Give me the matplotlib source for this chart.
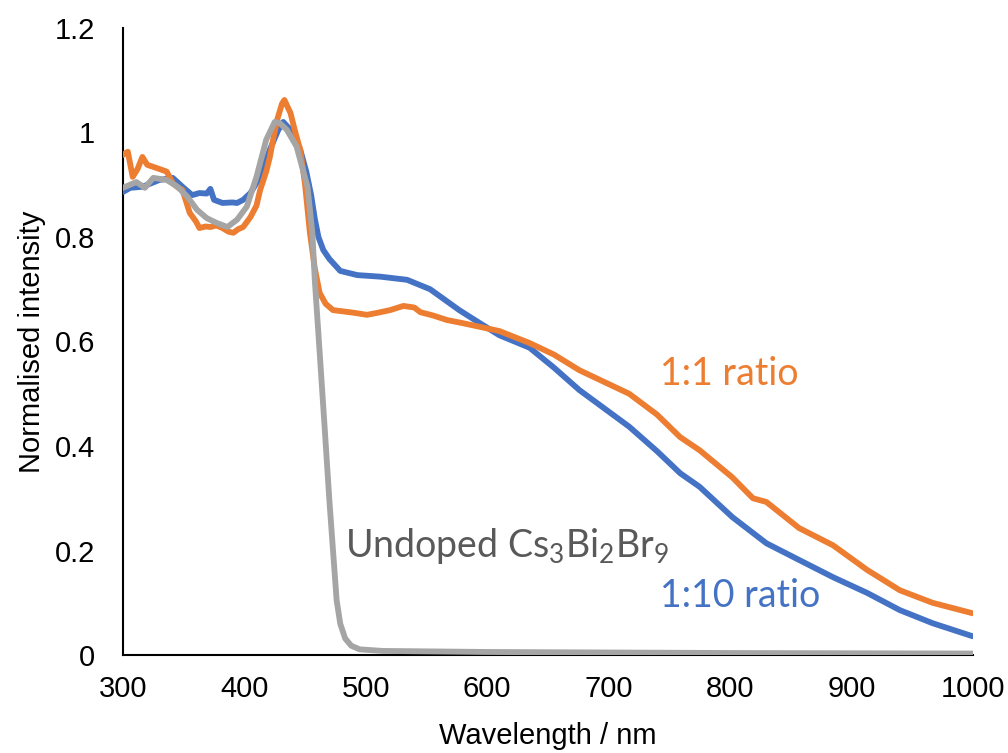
import matplotlib.pyplot as plt

# 1:10 ratio (blue)
wl_110 = [300, 306, 316, 330, 341, 349, 357, 363, 369, 372, 375, 382, 390, 394, 399,
          405, 413, 421, 428, 432, 438, 446, 451, 455, 458, 461, 465, 470, 479, 493,
          512, 534, 553, 577, 594, 610, 635, 655, 676, 717, 740, 759, 775, 802, 830,
          857, 885, 913, 940, 967, 1000]
int_110 = [0.886, 0.894, 0.896, 0.909, 0.913, 0.896, 0.880, 0.884, 0.883, 0.892, 0.871,
           0.865, 0.866, 0.865, 0.871, 0.884, 0.915, 0.967, 1.005, 1.020, 1.005, 0.967,
           0.925, 0.880, 0.835, 0.800, 0.775, 0.758, 0.735, 0.727, 0.724, 0.718, 0.700,
           0.660, 0.635, 0.612, 0.588, 0.550, 0.507, 0.437, 0.390, 0.348, 0.322, 0.264,
           0.214, 0.182, 0.149, 0.119, 0.086, 0.061, 0.036]

# 1:1 ratio (orange)
wl_11 = [300, 304, 308, 312, 316, 320, 325, 330, 336, 341, 345, 349, 355, 360, 363,
         368, 372, 377, 382, 387, 391, 395, 399, 405, 410, 413, 418, 421, 424, 427,
         431, 433, 438, 442, 446, 450, 454, 458, 462, 467, 473, 480, 490, 501, 510,
         520, 531, 540, 545, 555, 567, 580, 594, 610, 635, 655, 676, 717, 740, 759,
         775, 802, 819, 830, 857, 885, 913, 940, 967, 1000]
int_11 = [0.957, 0.963, 0.915, 0.930, 0.953, 0.938, 0.934, 0.930, 0.925, 0.903, 0.895,
          0.890, 0.846, 0.830, 0.817, 0.820, 0.819, 0.822, 0.817, 0.810, 0.808, 0.815,
          0.819, 0.838, 0.860, 0.890, 0.925, 0.953, 0.990, 1.024, 1.055, 1.062, 1.037,
          1.000, 0.967, 0.900, 0.808, 0.740, 0.693, 0.672, 0.660, 0.658, 0.655, 0.651,
          0.655, 0.660, 0.668, 0.665, 0.656, 0.650, 0.641, 0.635, 0.628, 0.620, 0.597,
          0.575, 0.545, 0.500, 0.460, 0.417, 0.392, 0.340, 0.300, 0.293, 0.243, 0.210,
          0.163, 0.124, 0.100, 0.080]

# undoped Cs3Bi2Br9 (grey)
wl_un = [300, 311, 318, 325, 336, 345, 353, 361, 369, 377, 386, 394, 402, 410, 418,
         425, 429, 435, 443, 452, 456, 458, 462, 466, 470, 473, 476, 479, 483, 488,
         495, 514, 600, 800, 1000]
int_un = [0.894, 0.905, 0.894, 0.913, 0.909, 0.896, 0.877, 0.852, 0.836, 0.827, 0.819,
          0.833, 0.858, 0.915, 0.986, 1.020, 1.018, 1.005, 0.973, 0.896, 0.808, 0.718,
          0.580, 0.440, 0.297, 0.201, 0.105, 0.060, 0.032, 0.018, 0.011, 0.008, 0.006,
          0.004, 0.003]

plt.rcParams['font.family'] = ['Liberation Sans', 'DejaVu Sans']

fig = plt.figure(figsize=(10.08, 7.53), dpi=100)
ax = fig.add_axes([0.122, 0.130, 0.843, 0.833])

lw = 4.2
ax.plot(wl_110, int_110, color='#4472C4', lw=lw, solid_capstyle='round', solid_joinstyle='round', zorder=3)
ax.plot(wl_11, int_11, color='#ED7D31', lw=lw, solid_capstyle='round', solid_joinstyle='round', zorder=4)
ax.plot(wl_un, int_un, color='#A5A5A5', lw=lw, solid_capstyle='round', solid_joinstyle='round', zorder=5)

ax.set_xlim(300, 1000)
ax.set_ylim(0, 1.2)
ax.set_xticks(range(300, 1001, 100))
ax.set_yticks([0, 0.2, 0.4, 0.6, 0.8, 1.0, 1.2])
ax.set_yticklabels(['0', '0.2', '0.4', '0.6', '0.8', '1', '1.2'])
ax.tick_params(length=0, labelsize=21)
ax.tick_params(axis='y', pad=20)
ax.tick_params(axis='x', pad=14)
for s in ['top', 'right']:
    ax.spines[s].set_visible(False)
for s in ['left', 'bottom']:
    ax.spines[s].set_linewidth(1.5)
    ax.spines[s].set_zorder(2)

ax.set_xlabel('Wavelength / nm', fontsize=21, labelpad=14)
ax.set_ylabel('Normalised intensity', fontsize=21, labelpad=6)

tf = ['Lato', 'DejaVu Sans']
plt.rcParams['mathtext.fontset'] = 'custom'
plt.rcParams['mathtext.rm'] = 'Lato'
ax.text(742, 0.517, '1:1 ratio', color='#ED7D31', fontsize=27, family=tf, va='baseline')
ax.text(742, 0.092, '1:10 ratio', color='#4472C4', fontsize=27, family=tf, va='baseline')
ax.text(483, 0.188, r'Undoped Cs$_\mathregular{3}$Bi$_\mathregular{2}$Br$_\mathregular{9}$',
        color='#595959', fontsize=27, family=tf, va='baseline')

fig.savefig('out.png', dpi=100)
